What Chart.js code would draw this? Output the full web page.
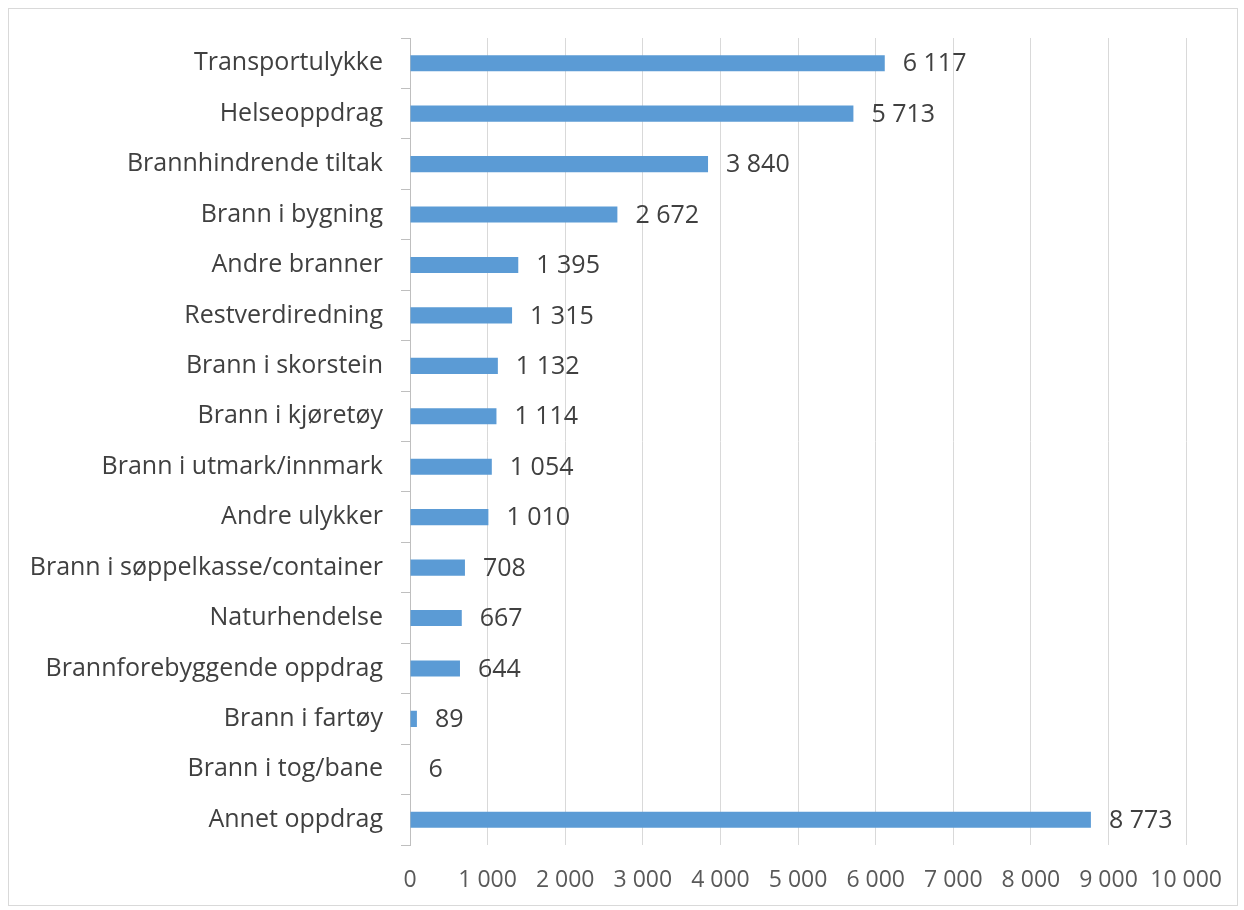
<!DOCTYPE html>
<html>
<head>
<meta charset="utf-8">
<script src="https://cdn.jsdelivr.net/npm/chart.js@4"></script>
<style>
  body { margin: 0; background: #fff; }
  #frame { position: absolute; left: 8px; top: 8px; width: 1228px; height: 896px; border: 1px solid #d9d9d9; }
  #wrap { position: absolute; left: 0; top: 0; width: 1244px; height: 910px; }
</style>
</head>
<body>
<div id="frame"></div>
<div id="wrap"><canvas id="myBarChart"></canvas></div>
<script>
const categories = [
  "Transportulykke",
  "Helseoppdrag",
  "Brannhindrende tiltak",
  "Brann i bygning",
  "Andre branner",
  "Restverdiredning",
  "Brann i skorstein",
  "Brann i kjøretøy",
  "Brann i utmark/innmark",
  "Andre ulykker",
  "Brann i søppelkasse/container",
  "Naturhendelse",
  "Brannforebyggende oppdrag",
  "Brann i fartøy",
  "Brann i tog/bane",
  "Annet oppdrag",
];
const counts = [6117, 5713, 3840, 2672, 1395, 1315, 1132, 1114, 1054, 1010, 708, 667, 644, 89, 6, 8773];
const xTicks = [0, 1000, 2000, 3000, 4000, 5000, 6000, 7000, 8000, 9000, 10000];

const fontFamily = '"Segoe UI", "Open Sans", "Noto Sans", sans-serif';
const barColor = "#5b9bd5";

// 8773 -> "8 773"
function fmt(n) {
  return String(n).replace(/\B(?=(\d{3})+(?!\d))/g, " ");
}

const valueLabels = {
  id: "valueLabels",
  afterDatasetsDraw(chart) {
    const c = chart.ctx;
    const meta = chart.getDatasetMeta(0);
    c.save();
    c.font = "25px " + fontFamily;
    c.fillStyle = "#404040";
    c.textAlign = "left";
    c.textBaseline = "middle";
    meta.data.forEach((bar, i) => {
      c.fillText(fmt(counts[i]), bar.x + 18, bar.y + 1);
    });
    c.restore();
  },
};

const ctx = document.getElementById("myBarChart");
new Chart(ctx, {
  type: "bar",
  data: {
    labels: categories,
    datasets: [
      {
        data: counts,
        backgroundColor: barColor,
        categoryPercentage: 1,
        barPercentage: 0.32,
      },
    ],
  },
  options: {
    indexAxis: "y",
    responsive: true,
    maintainAspectRatio: false,
    animation: false,
    layout: { padding: { top: 38, right: 56, bottom: 0, left: 0 } },
    scales: {
      x: {
        min: 0,
        max: 10000,
        afterBuildTicks(scale) {
          scale.ticks = xTicks.map((v) => ({ value: v }));
        },
        afterFit(scale) {
          scale.height = 65;
        },
        grid: { color: "#d9d9d9", drawTicks: false },
        border: { display: false },
        ticks: {
          padding: 22,
          color: "#595959",
          font: { family: fontFamily, size: 23 },
          callback: (v) => fmt(v),
        },
      },
      y: {
        afterFit(scale) {
          scale.width = 410;
        },
        grid: { drawOnChartArea: false, drawTicks: true, tickLength: 9, color: "#bfbfbf" },
        border: { display: true, color: "#bfbfbf" },
        ticks: {
          padding: 18,
          color: "#404040",
          font: { family: fontFamily, size: 25 },
        },
      },
    },
    plugins: {
      legend: { display: false },
      tooltip: { enabled: false },
    },
  },
  plugins: [valueLabels],
});
</script>
</body>
</html>
